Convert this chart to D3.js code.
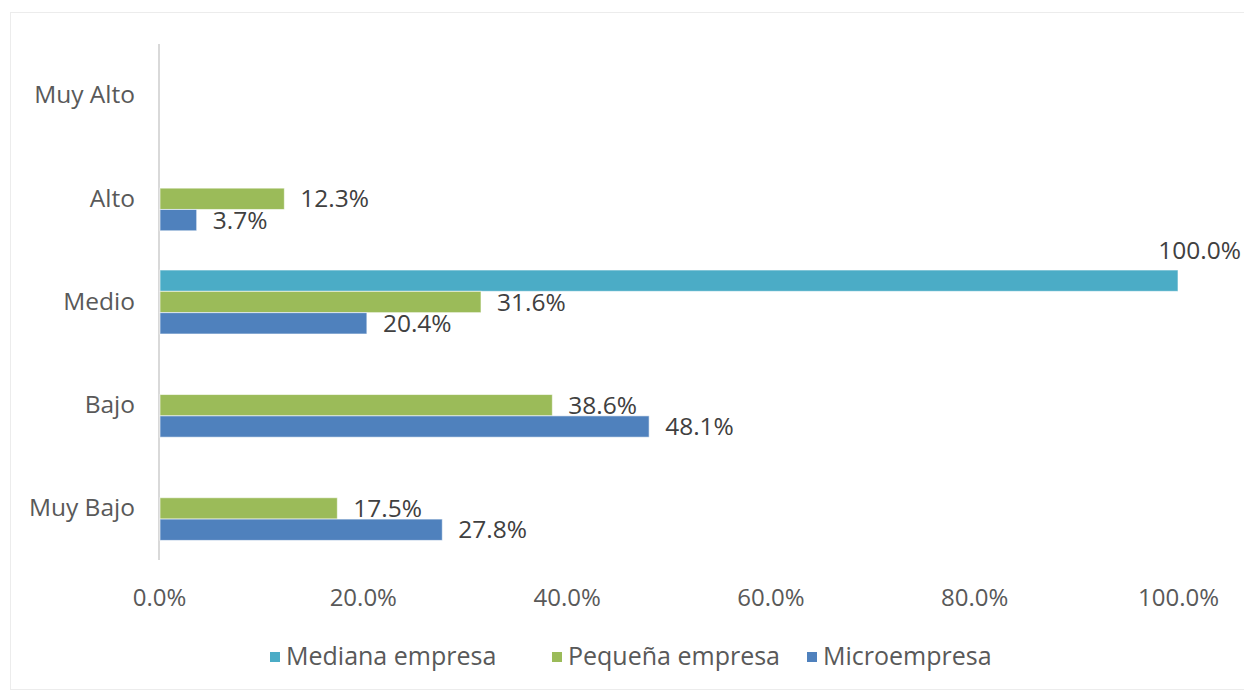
<!DOCTYPE html>
<html>
<head>
<meta charset="utf-8">
<script src="https://cdn.jsdelivr.net/npm/d3@7"></script>
<style>
  html, body { margin: 0; padding: 0; background: #fff; }
  svg { display: block; font-family: "Open Sans", "Liberation Sans", sans-serif; }
</style>
</head>
<body>
<svg id="chart" width="1244" height="692"></svg>
<script>
// Categories, top to bottom
const categories = ["Muy Alto", "Alto", "Medio", "Bajo", "Muy Bajo"];
// Series (in drawing order within each group, top to bottom)
const seriesNames = ["Mediana empresa", "Pequeña empresa", "Microempresa"];
const seriesColors = ["#4bacc6", "#9bbb59", "#4f81bd"];
// Values in percent; null = no bar
const medianaValues = [null, null, 100.0, null, null];
const pequenaValues = [null, 12.3, 31.6, 38.6, 17.5];
const microValues   = [null, 3.7, 20.4, 48.1, 27.8];
const xTicks = [0, 20, 40, 60, 80, 100];

const seriesValues = [medianaValues, pequenaValues, microValues];

const svg = d3.select("#chart");

// Chart frame
svg.append("rect")
  .attr("x", 10.5).attr("y", 12.5)
  .attr("width", 1240).attr("height", 677)
  .attr("fill", "#fff").attr("stroke", "#ececec");

const plot = { left: 159, right: 1178, top: 44, bottom: 560 };

const x = d3.scaleLinear().domain([0, 100]).range([plot.left, plot.right]);
const y = d3.scaleBand().domain(categories).range([plot.top, plot.bottom]).paddingInner(0.38).paddingOuter(0.19);
const ySub = d3.scaleBand().domain(seriesNames).range([0, y.bandwidth()]);

// Category axis
const yAxis = d3.axisLeft(y).tickSize(0).tickPadding(24);
const gy = svg.append("g").attr("transform", `translate(${plot.left},0)`).call(yAxis);
gy.select(".domain").attr("stroke", "#d9d9d9").attr("stroke-width", 2)
  .attr("d", `M0,${plot.top}V${plot.bottom}`);
gy.selectAll("text").attr("font-size", 24.5).attr("fill", "#595959").attr("font-family", "Open Sans, sans-serif");

// Value axis (labels only)
const xAxis = d3.axisBottom(x).tickValues(xTicks).tickSize(0).tickPadding(0)
  .tickFormat(d => d.toFixed(1) + "%");
const gx = svg.append("g").attr("transform", `translate(0,${plot.bottom + 29})`).call(xAxis);
gx.select(".domain").remove();
gx.selectAll("text").attr("font-size", 24).attr("fill", "#595959").attr("font-family", "Open Sans, sans-serif");

// Bars and labels
seriesNames.forEach((name, si) => {
  const data = categories.map((c, i) => ({ cat: c, v: seriesValues[si][i] })).filter(d => d.v !== null);
  const g = svg.append("g");
  g.selectAll("rect").data(data).enter().append("rect")
    .attr("x", x(0) + 1)
    .attr("y", d => y(d.cat) + ySub(name))
    .attr("width", d => x(d.v) - x(0) - 1)
    .attr("height", ySub.bandwidth())
    .attr("fill", seriesColors[si])
    .attr("stroke", "#ffffff").attr("stroke-opacity", 0.6).attr("stroke-width", 1);

  g.selectAll("text").data(data).enter().append("text")
    .attr("x", d => d.v >= 100 ? 1241 : x(d.v) + 16)
    .attr("y", d => d.v >= 100 ? y(d.cat) + ySub(name) - 18 : y(d.cat) + ySub(name) + ySub.bandwidth() / 2 + 2)
    .attr("text-anchor", d => d.v >= 100 ? "end" : "start")
    .attr("dominant-baseline", "middle")
    .attr("font-size", 24.5)
    .attr("fill", "#404040")
    .text(d => d.v.toFixed(1) + "%");
});

// Legend
const legendItems = [
  { name: seriesNames[0], color: seriesColors[0], x: 270 },
  { name: seriesNames[1], color: seriesColors[1], x: 552 },
  { name: seriesNames[2], color: seriesColors[2], x: 807 }
];
const lg = svg.append("g");
legendItems.forEach(it => {
  lg.append("rect").attr("x", it.x).attr("y", 652).attr("width", 10).attr("height", 10).attr("fill", it.color);
  lg.append("text").attr("x", it.x + 16).attr("y", 658)
    .attr("dominant-baseline", "middle")
    .attr("font-size", 25).attr("fill", "#595959")
    .text(it.name);
});
</script>
</body>
</html>
